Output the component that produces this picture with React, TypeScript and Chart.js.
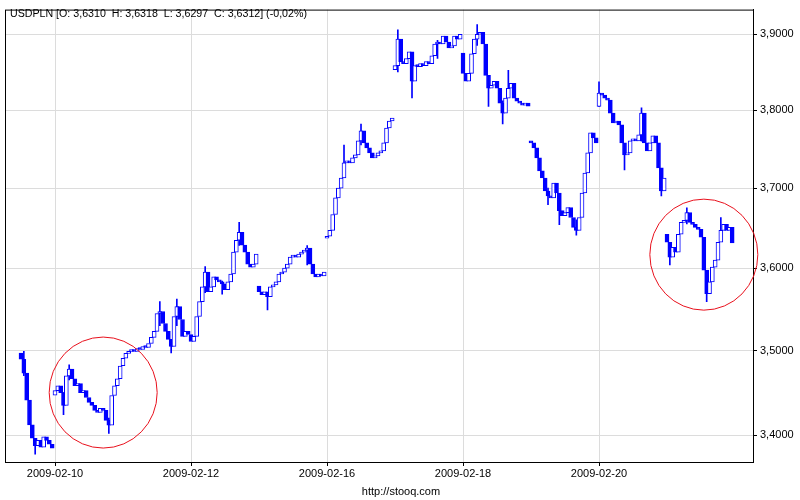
import React, { useEffect, useRef } from "react";
import { Chart, registerables } from "chart.js";
Chart.register(...registerables);

// ---- data ----
const dayLabels = ["2009-02-09", "2009-02-10", "2009-02-11", "2009-02-12", "2009-02-13", "2009-02-16", "2009-02-17", "2009-02-18", "2009-02-19", "2009-02-20", "2009-02-23"];
const tickLabels = ["2009-02-10", "2009-02-12", "2009-02-16", "2009-02-18", "2009-02-20"];
const yTickValues = [3.4, 3.5, 3.6, 3.7, 3.8, 3.9];
const titleText = "USDPLN [O: 3,6310  H: 3,6318  L: 3,6297  C: 3,6312] (-0,02%)";
const sourceText = "http://stooq.com";

// opening price of the first hourly bar of each session
const dayOpens = [3.497, 3.447, 3.482, 3.519, 3.578, 3.637, 3.853, 3.875, 3.76, 3.805, 3.642];

// hourly closes (hour 0..23) per session
const close0209 = [null, null, null, null, null, null, null, null, null, null, null, null, 3.4895, 3.473, 3.441, 3.412, 3.3965, 3.388, 3.394, 3.386, 3.398, 3.394, 3.3895, 3.385];
const close0210 = [3.4523, 3.4581, 3.45, 3.4349, 3.4698, 3.4779, 3.4663, 3.4581, 3.4605, 3.45, 3.4523, 3.4442, 3.4384, 3.4349, 3.4291, 3.4267, 3.4314, 3.4291, 3.4174, 3.4116, 3.4465, 3.4581, 3.4663, 3.4814];
const close0211 = [3.4907, 3.4965, 3.4988, 3.5012, 3.4988, 3.5024, 3.5012, 3.5048, 3.5036, 3.5084, 3.5157, 3.5229, 3.5446, 3.547, 3.5325, 3.5229, 3.5133, 3.5048, 3.541, 3.553, 3.5373, 3.5169, 3.5229, 3.5193];
const close0212 = [3.5108, 3.5169, 3.541, 3.559, 3.5771, 3.5952, 3.5711, 3.5771, 3.5892, 3.5855, 3.5831, 3.5807, 3.5735, 3.5831, 3.5928, 3.6198, 3.6346, 3.6444, 3.6284, 3.6198, 3.6049, 3.6012, 3.6049, 3.6173];
const close0213 = [3.5711, 3.5675, 3.5711, 3.5651, 3.5771, 3.5795, 3.5831, 3.5928, 3.5952, 3.6, 3.6049, 3.6136, 3.6148, 3.6136, 3.6173, 3.6198, 3.6222, 3.6247, 3.6049, 3.5928, 3.5892, 3.5928, 3.5904, 3.5952];
const close0216 = [3.6395, 3.6469, 3.6667, 3.6877, 3.7, 3.7128, 3.7321, 3.7346, 3.7321, 3.7385, 3.7423, 3.7603, 3.7731, 3.7577, 3.7513, 3.7449, 3.7385, 3.741, 3.7449, 3.7474, 3.7577, 3.7769, 3.7859, 3.7897];
const close0217 = [3.8584, 3.8935, 3.8636, 3.861, 3.8675, 3.8766, 3.8377, 3.8584, 3.8571, 3.861, 3.8584, 3.8636, 3.861, 3.8714, 3.887, 3.8896, 3.887, 3.8974, 3.8896, 3.8818, 3.8844, 3.8974, 3.8935, 3.9];
const close0218 = [3.8481, 3.8377, 3.8481, 3.874, 3.8935, 3.9, 3.9026, 3.887, 3.8455, 3.8286, 3.8325, 3.8377, 3.8286, 3.8091, 3.7962, 3.8156, 3.8286, 3.8351, 3.8156, 3.8117, 3.8091, 3.8065, 3.8091, 3.8052];
const close0219 = [3.7577, 3.7513, 3.7385, 3.7218, 3.7128, 3.6963, 3.6901, 3.6877, 3.7064, 3.6938, 3.6716, 3.6654, 3.6691, 3.6753, 3.663, 3.6506, 3.6469, 3.663, 3.6938, 3.7192, 3.7449, 3.7705, 3.7641, 3.7577];
const close0220 = [3.8221, 3.8195, 3.8156, 3.813, 3.7962, 3.7833, 3.7859, 3.7808, 3.7577, 3.7423, 3.7449, 3.7603, 3.7615, 3.7603, 3.7679, 3.7962, 3.7577, 3.7474, 3.7577, 3.7667, 3.7577, 3.7256, 3.6963, 3.7128];
const close0223 = [3.6321, 3.6136, 3.6259, 3.6198, 3.642, 3.6568, 3.6593, 3.6691, 3.6568, 3.6543, 3.6506, 3.6481, 3.6383, 3.5976, 3.5687, 3.5831, 3.6012, 3.6099, 3.6321, 3.6469, 3.6543, 3.6469, 3.6506, 3.6312];

// visible high/low wicks: [session, hour, low, high]
const wicks: [string, number, number, number][] = [
  ["2009-02-09", 13, 3.47, 3.499],
  ["2009-02-09", 17, 3.378, 3.395],
  ["2009-02-10", 3, 3.424, 3.45],
  ["2009-02-10", 5, 3.465, 3.483],
  ["2009-02-10", 19, 3.402, 3.42],
  ["2009-02-11", 13, 3.53, 3.559],
  ["2009-02-11", 17, 3.497, 3.51],
  ["2009-02-11", 19, 3.53, 3.562],
  ["2009-02-12", 5, 3.57, 3.602],
  ["2009-02-12", 11, 3.568, 3.584],
  ["2009-02-12", 17, 3.628, 3.657],
  ["2009-02-13", 3, 3.549, 3.57],
  ["2009-02-13", 17, 3.604, 3.628],
  ["2009-02-16", 6, 3.72, 3.755],
  ["2009-02-16", 12, 3.755, 3.782],
  ["2009-02-17", 1, 3.85, 3.906],
  ["2009-02-17", 6, 3.816, 3.87],
  ["2009-02-17", 15, 3.868, 3.892],
  ["2009-02-18", 5, 3.885, 3.913],
  ["2009-02-18", 9, 3.805, 3.835],
  ["2009-02-18", 14, 3.782, 3.812],
  ["2009-02-18", 16, 3.82, 3.852],
  ["2009-02-19", 6, 3.679, 3.7],
  ["2009-02-19", 10, 3.654, 3.68],
  ["2009-02-19", 16, 3.641, 3.66],
  ["2009-02-20", 0, 3.805, 3.837],
  ["2009-02-20", 9, 3.723, 3.75],
  ["2009-02-20", 15, 3.76, 3.803],
  ["2009-02-20", 22, 3.69, 3.72],
  ["2009-02-23", 1, 3.604, 3.63],
  ["2009-02-23", 7, 3.655, 3.675],
  ["2009-02-23", 14, 3.559, 3.59],
  ["2009-02-23", 19, 3.635, 3.663],
];

// annotation ellipses: [session, hour, price]
const circleMarks: [string, number, number][] = [
  ["2009-02-10", 17, 3.45],
  ["2009-02-23", 13, 3.6167],
];

const closesByDay = [close0209, close0210, close0211, close0212, close0213, close0216, close0217, close0218, close0219, close0220, close0223];
const HOURS = 24;
const BASE = dayLabels.indexOf("2009-02-10");
const slotOf = (day: string, hour: number) => (dayLabels.indexOf(day) - BASE) * HOURS + hour;

type Candle = { x: number; y: [number, number]; up: boolean };
const candles: Candle[] = [];
closesByDay.forEach((arr, d) => {
  let prev = dayOpens[d];
  arr.forEach((c, h) => {
    if (c == null) return;
    candles.push({ x: (d - BASE) * HOURS + h, y: [prev, c as number], up: (c as number) >= prev });
    prev = c as number;
  });
});
const wickPoints = wicks.map(([day, hour, lo, hi]) => ({ x: slotOf(day, hour), y: [lo, hi] }));
const tickPositions = tickLabels.map((l) => slotOf(l, 0));

const BLUE = "#0000ff";
const FONT = "'Liberation Sans', Arial, sans-serif";

const overlayPlugin = {
  id: "overlay",
  afterDraw(chart: any) {
    const { ctx, chartArea: a, scales } = chart;
    ctx.save();
    ctx.strokeStyle = "#000";
    ctx.lineWidth = 1;
    ctx.strokeRect(a.left + 0.5, a.top + 0.5, a.right - a.left, a.bottom - a.top);
    ctx.fillStyle = "#000";
    ctx.font = "10.65px " + FONT;
    ctx.textBaseline = "middle";
    ctx.textAlign = "left";
    ctx.fillText(titleText, 10, 14);
    ctx.font = "11px " + FONT;
    ctx.textAlign = "center";
    ctx.fillText(sourceText, 401, 492);
    ctx.strokeStyle = "#e8101c";
    circleMarks.forEach(([day, hour, price]) => {
      const cx = scales.x.getPixelForValue(slotOf(day, hour));
      const cy = scales.y.getPixelForValue(price);
      ctx.beginPath();
      ctx.ellipse(cx, cy, 54, 55.5, 0, 0, Math.PI * 2);
      ctx.stroke();
    });
    ctx.restore();
  },
};

export default function App() {
  const ref = useRef<HTMLCanvasElement | null>(null);
  useEffect(() => {
    document.body.style.margin = "0";
    if (!ref.current) return;
    Chart.defaults.font.family = FONT;
    Chart.defaults.font.size = 11;
    const chart = new Chart(ref.current, {
      type: "bar",
      data: {
        datasets: [
          {
            data: candles as any,
            backgroundColor: candles.map((c) => (c.up ? "#ffffff" : BLUE)),
            borderColor: BLUE,
            borderWidth: 1,
            borderSkipped: false,
            barThickness: 4,
            minBarLength: 2,
            grouped: false,
          } as any,
          {
            data: wickPoints as any,
            backgroundColor: BLUE,
            borderWidth: 0,
            barThickness: 1,
            grouped: false,
          } as any,
        ],
      },
      options: {
        animation: false,
        responsive: false,
        maintainAspectRatio: false,
        layout: { padding: { left: 5, top: 5, right: 0, bottom: 0 } },
        plugins: { legend: { display: false }, tooltip: { enabled: false } },
        scales: {
          x: {
            type: "linear",
            offset: false,
            min: -17.65,
            max: 246.35,
            afterBuildTicks: (s: any) => {
              s.ticks = tickPositions.map((v) => ({ value: v }));
            },
            afterFit: (s: any) => {
              s.height = 38;
            },
            ticks: {
              autoSkip: false,
              maxRotation: 0,
              padding: 1,
              color: "#000",
              callback: (v: any) => tickLabels[tickPositions.indexOf(v)] ?? "",
            },
            grid: { offset: false, color: "#dcdcdc", tickColor: "#000", tickLength: 4 },
            border: { color: "#000" },
          },
          y: {
            type: "logarithmic",
            position: "right",
            min: 3.369,
            max: 3.933,
            afterBuildTicks: (s: any) => {
              s.ticks = yTickValues.map((v) => ({ value: v }));
            },
            afterFit: (s: any) => {
              s.width = 47;
            },
            ticks: {
              padding: 3,
              color: "#000",
              callback: (v: any) => Number(v).toFixed(4).replace(".", ","),
            },
            grid: { color: "#dcdcdc", tickColor: "#000", tickLength: 4 },
            border: { color: "#000" },
          },
        },
      } as any,
      plugins: [overlayPlugin],
    });
    return () => chart.destroy();
  }, []);
  return <canvas ref={ref} width={800} height={500} style={{ display: "block" }} />;
}
